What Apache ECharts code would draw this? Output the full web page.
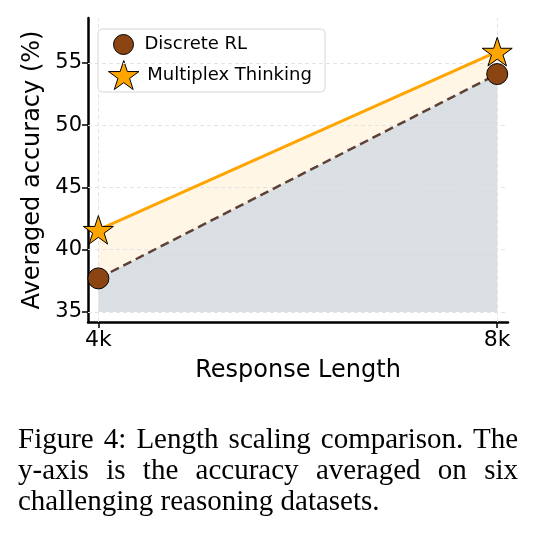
<!DOCTYPE html>
<html>
<head>
<meta charset="utf-8">
<script src="https://cdn.jsdelivr.net/npm/echarts@6/dist/echarts.min.js"></script>
<style>
  body { margin: 0; background: #fff; }
  #chart { position: absolute; left: 0; top: 0; width: 535px; height: 537px; }
  #caption {
    position: absolute; left: 18px; top: 423px; width: 500px;
    font-family: "Liberation Serif", serif; font-size: 29px; line-height: 31px;
    text-align: justify; color: #000;
  }
</style>
</head>
<body>
<div id="chart"></div>
<div id="caption">Figure 4: Length scaling comparison. The y-axis is the accuracy averaged on six challenging reasoning datasets.</div>
<script>
// response length in k tokens
const lengths = [4, 8];
const discreteRL = [37.7, 54.1];
const multiplex = [41.6, 55.9];
const yTicks = [35, 40, 45, 50, 55];
const fillBase = 35;

const starPath = 'path://M100,0 L122.45,69.1 L195.1,69.1 L136.3,111.8 L158.8,180.9 L100,138.2 L41.2,180.9 L63.7,111.8 L4.9,69.1 L77.55,69.1 Z';
const font = 'DejaVu Sans';

function pairs(ys) {
  return lengths.map((x, i) => [x, ys[i]]);
}

const gridLine = { color: '#e4e4e4', width: 1, type: [4, 3] };
const legendText = { fontFamily: font, fontSize: 18, color: '#000' };

let chart = echarts.init(document.getElementById('chart'));
chart.setOption({
  animation: false,
  grid: { left: 88, right: 27, top: 18, bottom: 215 },
  xAxis: {
    type: 'value',
    min: 3.896,
    max: 8.108,
    name: 'Response Length',
    nameLocation: 'middle',
    nameGap: 37,
    nameTextStyle: { fontFamily: font, fontSize: 24, color: '#000' },
    axisLine: { show: true, onZero: false, lineStyle: { color: '#000', width: 2.5 } },
    axisTick: { show: true, customValues: lengths, length: 6, lineStyle: { color: '#000', width: 1.5 } },
    axisLabel: {
      customValues: lengths,
      formatter: v => v + 'k',
      fontFamily: font, fontSize: 22, color: '#000', margin: 7
    },
    splitLine: { show: false }
  },
  yAxis: {
    type: 'value',
    min: 34.2,
    max: 58.6,
    name: 'Averaged accuracy (%)',
    nameLocation: 'middle',
    nameGap: 41,
    nameTextStyle: { fontFamily: font, fontSize: 24, color: '#000' },
    axisLine: { show: true, onZero: false, lineStyle: { color: '#000', width: 2.5 } },
    axisTick: { show: true, customValues: yTicks, length: 6, lineStyle: { color: '#000', width: 1.5 } },
    axisLabel: { customValues: yTicks, fontFamily: font, fontSize: 21, color: '#000', margin: 6 },
    splitLine: { show: false }
  },
  legend: [
    {
      data: [{ name: 'Discrete RL', icon: 'circle' }],
      left: 113, top: 34, padding: 0,
      itemWidth: 32, itemHeight: 20,
      itemStyle: { borderColor: '#000', borderWidth: 1 },
      textStyle: legendText,
      selectedMode: false
    },
    {
      data: [{ name: 'Multiplex Thinking', icon: starPath }],
      left: 108, top: 60, padding: 0,
      itemWidth: 37, itemHeight: 29,
      itemStyle: { borderColor: '#000', borderWidth: 1 },
      textStyle: legendText,
      selectedMode: false
    }
  ],
  graphic: [{
    type: 'rect',
    z: 3,
    shape: { x: 98, y: 29, width: 227, height: 63, r: 4 },
    style: { fill: 'rgba(255,255,255,0.85)', stroke: '#d6d6d6', lineWidth: 1 }
  }],
  series: [
    {
      name: 'multiplex fill',
      type: 'line',
      z: 1,
      silent: true,
      data: pairs(multiplex),
      symbol: 'none',
      lineStyle: { width: 0 },
      areaStyle: { color: '#fff6e6', opacity: 1, origin: fillBase },
      markLine: {
        silent: true,
        symbol: 'none',
        label: { show: false },
        lineStyle: gridLine,
        data: lengths.map(x => ({ xAxis: x })).concat(yTicks.map(y => ({ yAxis: y })))
      }
    },
    {
      name: 'discrete fill',
      type: 'line',
      z: 2,
      silent: true,
      data: pairs(discreteRL),
      symbol: 'none',
      lineStyle: { width: 0 },
      areaStyle: { color: '#d9dfe3', opacity: 1, origin: fillBase }
    },
    {
      name: 'Discrete RL',
      type: 'line',
      z: 5,
      data: pairs(discreteRL),
      symbol: 'circle',
      symbolSize: 21,
      itemStyle: { color: '#8b4513', borderColor: '#000', borderWidth: 1 },
      lineStyle: { color: '#5d4037', width: 2.5, type: [9, 5] }
    },
    {
      name: 'Multiplex Thinking',
      type: 'line',
      z: 6,
      data: pairs(multiplex),
      symbol: starPath,
      symbolSize: 30,
      symbolKeepAspect: true,
      itemStyle: { color: '#ffa500', borderColor: '#000', borderWidth: 1 },
      lineStyle: { color: '#ffa500', width: 3 }
    }
  ]
});
</script>
</body>
</html>
